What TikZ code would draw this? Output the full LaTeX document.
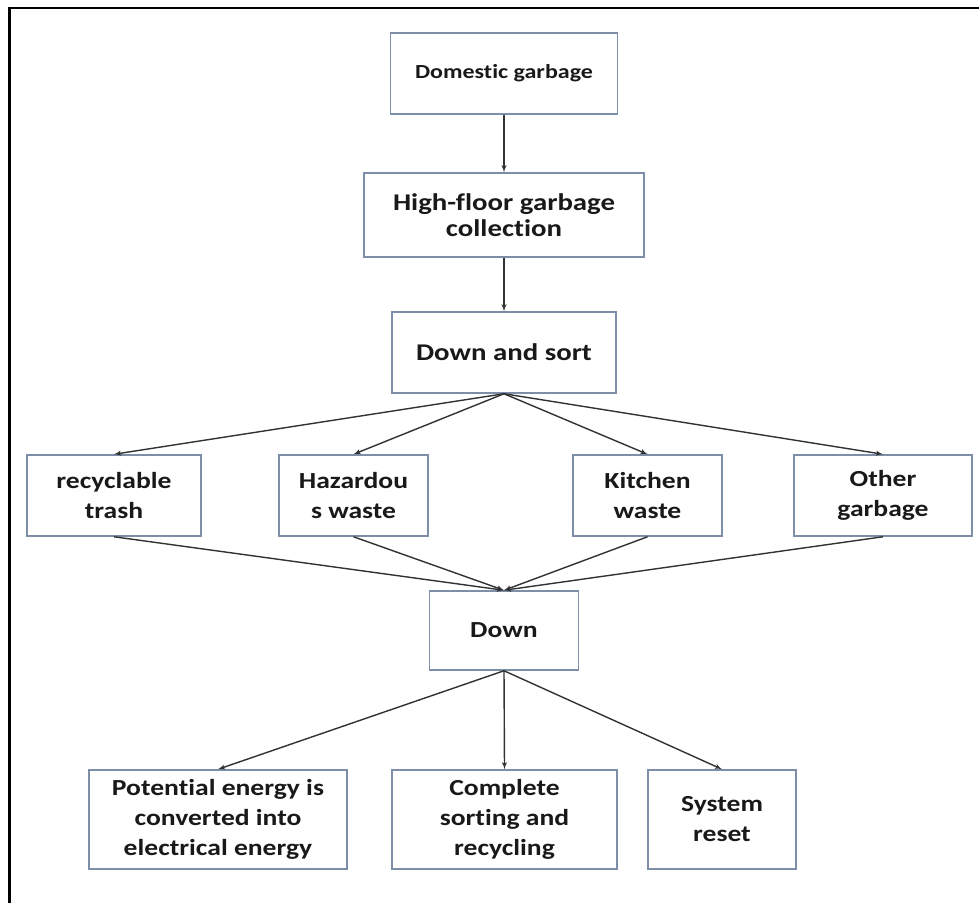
\documentclass[tikz,border=0pt]{standalone}
\usepackage{fontspec}
\setmainfont{Carlito}[FakeStretch=1.2, Ligatures=NoCommon]
\usetikzlibrary{shapes}
\usetikzlibrary{arrows}
\definecolor{boxline}{RGB}{125,143,168}
\definecolor{wire}{RGB}{50,50,50}
\definecolor{ink}{RGB}{25,25,25}
\tikzstyle{block} = [rectangle, draw=boxline, line width=1.5pt, fill=white, text=ink,
    font=\bfseries\fontsize{23}{30}\selectfont, align=center, inner sep=0pt, minimum height=81pt]
\tikzstyle{line} = [draw=wire, line width=1.4pt, -latex']
\tikzstyle{frame} = [draw, line width=2.4pt]

\begin{document}
\begin{tikzpicture}[x=1pt, y=-1pt, node distance=140pt, auto]
    \useasboundingbox (0,0) rectangle (979,903);
    % Outer frame
    \path [frame] (9.5,903) -- (9.5,7.8) -- (979,7.8);
    % Place nodes
    \node [block, minimum width=227pt, font=\bfseries\fontsize{20}{24}\selectfont] (domestic) at (504,73.5) {Domestic garbage};
    \node [block, below of=domestic, node distance=141.5pt, minimum width=280pt, minimum height=84pt,
        font=\bfseries\fontsize{24}{26}\selectfont] (collection) {High-floor garbage\\collection};
    \node [block, below of=collection, node distance=137.5pt, minimum width=224pt,
        font=\bfseries\fontsize{24}{30}\selectfont] (sort) {Down and sort};
    \node [block, minimum width=174pt] (recyclable) at (114,495.5) {recyclable\\trash};
    \node [block, minimum width=149pt] (hazardous) at (353.5,495.5) {Hazardou\\s waste};
    \node [block, minimum width=149pt] (kitchen) at (647.5,495.5) {Kitchen\\waste};
    \node [block, minimum width=178pt] (other) at (883,495.5) {Other\\garbage};
    \node [block, below of=sort, node distance=278pt, minimum width=149pt, minimum height=79pt] (down) {Down};
    \node [block, minimum width=258pt, minimum height=99pt] (energy) at (218,819.5) {Potential energy is\\converted into\\electrical energy};
    \node [block, minimum width=225pt, minimum height=99pt] (recycling) at (504.5,819.5) {Complete\\sorting and\\recycling};
    \node [block, minimum width=148pt, minimum height=99pt] (reset) at (722,819.5) {System\\reset};
    % Draw edges
    \path [line] (domestic) -- (collection);
    \path [line] (collection) -- (sort);
    \path [line] (sort.south) -- (recyclable.north);
    \path [line] (sort.south) -- (hazardous.north);
    \path [line] (sort.south) -- (kitchen.north);
    \path [line] (sort.south) -- (other.north);
    \path [line] (recyclable.south) -- (down.north);
    \path [line] (hazardous.south) -- (down.north);
    \path [line] (kitchen.south) -- (down.north);
    \path [line] (other.south) -- (down.north);
    \path [line] (down.south) -- (energy.north);
    \path [line] (down.south) -- (recycling.north);
    \path [line] (down.south) -- (reset.north);
\end{tikzpicture}
\end{document}
